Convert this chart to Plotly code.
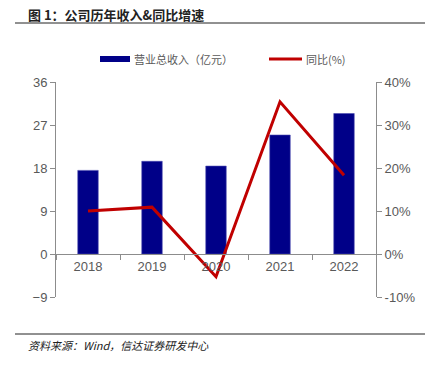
import plotly.graph_objects as go

years = ["2018", "2019", "2020", "2021", "2022"]
revenue = [17.5, 19.4, 18.4, 24.9, 29.4]
growth = [10.0, 10.9, -5.3, 35.4, 18.3]
left_ticks = [-9, 0, 9, 18, 27, 36]
right_ticks = [-10, 0, 10, 20, 30, 40]
right_labels = ["-10%", "0%", "10%", "20%", "30%", "40%"]

W, H = 432, 373
L, R, T, B = 56, 376, 82, 297

def px(x):
    return (x - L) / (R - L)

def py(y):
    return (B - y) / (B - T)

NAVY = "#000088"
RED = "#C00000"
GREY = "#8c8c8c"
TXT = "#595959"
CJK = "Noto Sans CJK SC"

fig = go.Figure()
fig.add_trace(go.Bar(x=years, y=revenue, name="营业总收入（亿元）", width=0.32,
                     marker=dict(color=NAVY, line=dict(color="#4a4ab0", width=0.6)),
                     yaxis="y", showlegend=False))
fig.add_trace(go.Scatter(x=years, y=growth, name="同比(%)", mode="lines",
                         line=dict(color=RED, width=3), yaxis="y2", showlegend=False))

fig.update_layout(
    width=W, height=H,
    margin=dict(l=L, r=W - R, t=T, b=H - B, autoexpand=False),
    paper_bgcolor="white", plot_bgcolor="white",
    font=dict(family="Liberation Sans, Arial", size=13, color=TXT),
    xaxis=dict(anchor="free", position=0.2, showline=True, linecolor=GREY, linewidth=1,
               ticks="outside", tickson="boundaries", ticklen=5, tickcolor=GREY,
               showgrid=False, zeroline=False, range=[-0.5, 4.5],
               tickfont=dict(size=13, color=TXT)),
    yaxis=dict(range=[-9, 36], tickvals=left_ticks, showline=True, linecolor=GREY,
               linewidth=1, ticks="outside", ticklen=5, tickcolor=GREY,
               showgrid=False, zeroline=False, tickfont=dict(size=13, color=TXT)),
    yaxis2=dict(range=[-10, 40], tickmode="array", tickvals=right_ticks, ticktext=right_labels,
                overlaying="y", side="right", showline=True, linecolor=GREY, linewidth=1,
                ticks="outside", ticklen=5, tickcolor=GREY, showgrid=False,
                zeroline=False, tickfont=dict(size=13, color=TXT)),
    showlegend=False,
)

shapes = [
    dict(type="line", xref="paper", yref="paper", x0=px(15), x1=px(425), y0=py(23), y1=py(23),
         line=dict(color="#222222", width=1)),
    dict(type="line", xref="paper", yref="paper", x0=px(15), x1=px(425), y0=py(334), y1=py(334),
         line=dict(color="#222222", width=1)),
    # legend symbols
    dict(type="rect", xref="paper", yref="paper", x0=px(100), x1=px(130), y0=py(62), y1=py(56),
         fillcolor=NAVY, line=dict(width=0)),
    dict(type="line", xref="paper", yref="paper", x0=px(269), x1=px(302), y0=py(59), y1=py(59),
         line=dict(color=RED, width=3)),
]
fig.update_layout(shapes=shapes)

anns = [
    dict(text="<b>图 1：公司历年收入&同比增速</b>", x=px(26), y=py(15), xanchor="left", yanchor="middle",
         font=dict(family=CJK, size=13, color="#222222")),
    dict(text="营业总收入（亿元）", x=px(132), y=py(59), xanchor="left", yanchor="middle",
         font=dict(family=CJK, size=11, color=TXT)),
    dict(text="同比(%)", x=px(304), y=py(59), xanchor="left", yanchor="middle",
         font=dict(family=CJK, size=11, color=TXT)),
    dict(text="<i>资料来源：Wind，信达证券研发中心</i>", x=px(26), y=py(345), xanchor="left",
         yanchor="middle", font=dict(family=CJK, size=11, color="#222222")),
]
for a in anns:
    a.update(xref="paper", yref="paper", showarrow=False)
fig.update_layout(annotations=anns)

fig.write_html("out.html", config={"displayModeBar": False},
               post_script="document.body.style.margin='0';")
